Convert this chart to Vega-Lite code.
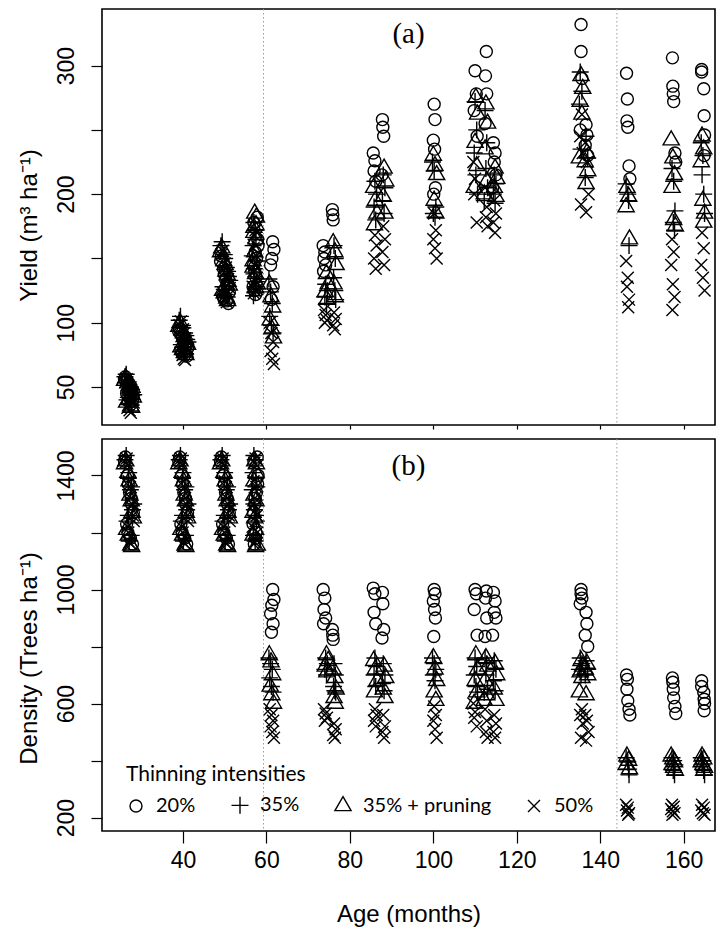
{
"$schema": "https://vega.github.io/schema/vega-lite/v6.json",
"padding": {"left": 16, "top": 7, "right": 2, "bottom": 2},
"background": "white",
"spacing": 6,
"config": {
  "view": {"stroke": "black", "strokeWidth": 1.6},
  "axis": {"domain": false, "grid": false, "tickColor": "black", "tickWidth": 1.2, "labelFont": "Liberation Sans", "titleFont": "Liberation Sans", "labelColor": "black", "titleColor": "black", "labelFontSize": 23, "titleFontSize": 24, "titleFontWeight": "normal", "labelOverlap": false, "labelFlush": false}
},
"resolve": {"scale": {"x": "independent", "y": "independent", "shape": "independent"}, "legend": {"shape": "independent"}},
"datasets": {"obs": [
{"a":26.2,"t":"20%","y":58,"d":1465},{"a":26.7,"t":"20%","y":55,"d":1400},{"a":27.2,"t":"20%","y":52,"d":1340},{"a":27.7,"t":"20%","y":48,"d":1300},{"a":26.5,"t":"20%","y":45,"d":1230},{"a":27.4,"t":"20%","y":42,"d":1180},
{"a":26.4,"t":"35%","y":60,"d":1470},{"a":26.9,"t":"35%","y":54,"d":1390},{"a":27.4,"t":"35%","y":50,"d":1350},{"a":27.9,"t":"35%","y":46,"d":1280},{"a":26.6,"t":"35%","y":40,"d":1240},{"a":27.1,"t":"35%","y":37,"d":1170},
{"a":26.3,"t":"35% + pruning","y":57,"d":1450},{"a":26.8,"t":"35% + pruning","y":53,"d":1410},{"a":27.3,"t":"35% + pruning","y":49,"d":1330},{"a":27.8,"t":"35% + pruning","y":44,"d":1270},{"a":26.5,"t":"35% + pruning","y":38,"d":1210},{"a":27.5,"t":"35% + pruning","y":35,"d":1155},
{"a":26.5,"t":"50%","y":56,"d":1460},{"a":27.0,"t":"50%","y":51,"d":1380},{"a":27.5,"t":"50%","y":45,"d":1320},{"a":28.0,"t":"50%","y":40,"d":1260},{"a":26.7,"t":"50%","y":34,"d":1220},{"a":27.2,"t":"50%","y":32,"d":1165},
{"a":26.0,"t":"20%","y":56,"d":1450},{"a":26.9,"t":"20%","y":53,"d":1370},{"a":27.6,"t":"20%","y":50,"d":1320},{"a":28.1,"t":"20%","y":47,"d":1270},{"a":26.8,"t":"20%","y":43,"d":1200},{"a":27.9,"t":"20%","y":39,"d":1160},
{"a":26.1,"t":"35%","y":58,"d":1455},{"a":27.0,"t":"35%","y":52,"d":1410},{"a":27.7,"t":"35%","y":48,"d":1360},{"a":28.2,"t":"35%","y":44,"d":1300},{"a":26.9,"t":"35%","y":42,"d":1260},{"a":27.6,"t":"35%","y":36,"d":1190},
{"a":26.0,"t":"35% + pruning","y":55,"d":1440},{"a":27.1,"t":"35% + pruning","y":51,"d":1380},{"a":27.6,"t":"35% + pruning","y":47,"d":1310},{"a":28.1,"t":"35% + pruning","y":42,"d":1250},{"a":26.9,"t":"35% + pruning","y":40,"d":1190},{"a":27.7,"t":"35% + pruning","y":34,"d":1150},
{"a":26.2,"t":"50%","y":54,"d":1445},{"a":27.3,"t":"50%","y":49,"d":1360},{"a":27.8,"t":"50%","y":43,"d":1300},{"a":28.2,"t":"50%","y":38,"d":1240},{"a":26.9,"t":"50%","y":36,"d":1200},{"a":27.5,"t":"50%","y":30,"d":1160},
{"a":39.2,"t":"20%","y":95,"d":1465},{"a":39.7,"t":"20%","y":90,"d":1400},{"a":40.2,"t":"20%","y":86,"d":1340},{"a":40.7,"t":"20%","y":82,"d":1300},{"a":39.5,"t":"20%","y":78,"d":1230},{"a":40.4,"t":"20%","y":75,"d":1180},
{"a":39.4,"t":"35%","y":105,"d":1470},{"a":39.9,"t":"35%","y":98,"d":1390},{"a":40.4,"t":"35%","y":92,"d":1350},{"a":40.9,"t":"35%","y":87,"d":1280},{"a":39.6,"t":"35%","y":83,"d":1240},{"a":40.1,"t":"35%","y":78,"d":1170},
{"a":39.3,"t":"35% + pruning","y":100,"d":1450},{"a":39.8,"t":"35% + pruning","y":94,"d":1410},{"a":40.3,"t":"35% + pruning","y":89,"d":1330},{"a":40.8,"t":"35% + pruning","y":85,"d":1270},{"a":39.5,"t":"35% + pruning","y":81,"d":1210},{"a":40.5,"t":"35% + pruning","y":77,"d":1155},
{"a":39.5,"t":"50%","y":101,"d":1460},{"a":40.0,"t":"50%","y":95,"d":1380},{"a":40.5,"t":"50%","y":88,"d":1320},{"a":41.0,"t":"50%","y":83,"d":1260},{"a":39.7,"t":"50%","y":77,"d":1220},{"a":40.2,"t":"50%","y":72,"d":1165},
{"a":39.0,"t":"20%","y":93,"d":1450},{"a":39.9,"t":"20%","y":88,"d":1370},{"a":40.6,"t":"20%","y":84,"d":1320},{"a":41.1,"t":"20%","y":80,"d":1270},{"a":39.8,"t":"20%","y":76,"d":1200},{"a":40.9,"t":"20%","y":74,"d":1160},
{"a":39.1,"t":"35%","y":102,"d":1455},{"a":40.0,"t":"35%","y":96,"d":1410},{"a":40.7,"t":"35%","y":90,"d":1360},{"a":41.2,"t":"35%","y":85,"d":1300},{"a":39.9,"t":"35%","y":81,"d":1260},{"a":40.6,"t":"35%","y":76,"d":1190},
{"a":39.0,"t":"35% + pruning","y":97,"d":1440},{"a":40.1,"t":"35% + pruning","y":92,"d":1380},{"a":40.6,"t":"35% + pruning","y":87,"d":1310},{"a":41.1,"t":"35% + pruning","y":83,"d":1250},{"a":39.9,"t":"35% + pruning","y":79,"d":1190},{"a":40.7,"t":"35% + pruning","y":75,"d":1150},
{"a":39.2,"t":"50%","y":98,"d":1445},{"a":40.3,"t":"50%","y":92,"d":1360},{"a":40.8,"t":"50%","y":86,"d":1300},{"a":41.2,"t":"50%","y":80,"d":1240},{"a":39.9,"t":"50%","y":75,"d":1200},{"a":40.5,"t":"50%","y":71,"d":1160},
{"a":49.2,"t":"20%","y":152,"d":1465},{"a":49.7,"t":"20%","y":142,"d":1400},{"a":50.2,"t":"20%","y":134,"d":1340},{"a":50.7,"t":"20%","y":127,"d":1300},{"a":49.5,"t":"20%","y":121,"d":1230},{"a":50.4,"t":"20%","y":117,"d":1180},
{"a":49.4,"t":"35%","y":163,"d":1470},{"a":49.9,"t":"35%","y":153,"d":1390},{"a":50.4,"t":"35%","y":143,"d":1350},{"a":50.9,"t":"35%","y":136,"d":1280},{"a":49.6,"t":"35%","y":128,"d":1240},{"a":50.1,"t":"35%","y":122,"d":1170},
{"a":49.3,"t":"35% + pruning","y":158,"d":1450},{"a":49.8,"t":"35% + pruning","y":148,"d":1410},{"a":50.3,"t":"35% + pruning","y":140,"d":1330},{"a":50.8,"t":"35% + pruning","y":132,"d":1270},{"a":49.5,"t":"35% + pruning","y":125,"d":1210},{"a":50.5,"t":"35% + pruning","y":119,"d":1155},
{"a":49.5,"t":"50%","y":156,"d":1460},{"a":50.0,"t":"50%","y":146,"d":1380},{"a":50.5,"t":"50%","y":137,"d":1320},{"a":51.0,"t":"50%","y":130,"d":1260},{"a":49.7,"t":"50%","y":123,"d":1220},{"a":50.2,"t":"50%","y":118,"d":1165},
{"a":49.0,"t":"20%","y":148,"d":1450},{"a":49.9,"t":"20%","y":138,"d":1370},{"a":50.6,"t":"20%","y":130,"d":1320},{"a":51.1,"t":"20%","y":124,"d":1270},{"a":49.8,"t":"20%","y":119,"d":1200},{"a":50.9,"t":"20%","y":115,"d":1160},
{"a":49.1,"t":"35%","y":160,"d":1455},{"a":50.0,"t":"35%","y":150,"d":1410},{"a":50.7,"t":"35%","y":140,"d":1360},{"a":51.2,"t":"35%","y":133,"d":1300},{"a":49.9,"t":"35%","y":126,"d":1260},{"a":50.6,"t":"35%","y":120,"d":1190},
{"a":49.0,"t":"35% + pruning","y":155,"d":1440},{"a":50.1,"t":"35% + pruning","y":145,"d":1380},{"a":50.6,"t":"35% + pruning","y":137,"d":1310},{"a":51.1,"t":"35% + pruning","y":129,"d":1250},{"a":49.9,"t":"35% + pruning","y":123,"d":1190},{"a":50.7,"t":"35% + pruning","y":117,"d":1150},
{"a":49.2,"t":"50%","y":153,"d":1445},{"a":50.3,"t":"50%","y":143,"d":1360},{"a":50.8,"t":"50%","y":134,"d":1300},{"a":51.2,"t":"50%","y":127,"d":1240},{"a":49.9,"t":"50%","y":121,"d":1200},{"a":50.5,"t":"50%","y":116,"d":1160},
{"a":57.8,"t":"20%","y":182,"d":1465},{"a":58.0,"t":"20%","y":160,"d":1400},{"a":57.6,"t":"20%","y":150,"d":1340},{"a":57.2,"t":"20%","y":140,"d":1300},{"a":56.8,"t":"20%","y":128,"d":1230},{"a":57.4,"t":"20%","y":122,"d":1180},
{"a":57.0,"t":"35%","y":178,"d":1470},{"a":57.5,"t":"35%","y":165,"d":1390},{"a":56.6,"t":"35%","y":152,"d":1350},{"a":57.1,"t":"35%","y":142,"d":1280},{"a":57.6,"t":"35%","y":132,"d":1240},{"a":57.3,"t":"35%","y":124,"d":1170},
{"a":57.2,"t":"35% + pruning","y":185,"d":1450},{"a":57.5,"t":"35% + pruning","y":176,"d":1410},{"a":57.0,"t":"35% + pruning","y":170,"d":1330},{"a":56.8,"t":"35% + pruning","y":148,"d":1270},{"a":57.4,"t":"35% + pruning","y":138,"d":1210},{"a":57.8,"t":"35% + pruning","y":130,"d":1155},
{"a":57.4,"t":"50%","y":172,"d":1460},{"a":56.9,"t":"50%","y":158,"d":1380},{"a":57.2,"t":"50%","y":145,"d":1320},{"a":57.7,"t":"50%","y":135,"d":1260},{"a":56.7,"t":"50%","y":128,"d":1220},{"a":57.3,"t":"50%","y":125,"d":1165},
{"a":57.0,"t":"20%","y":178,"d":1450},{"a":57.9,"t":"20%","y":165,"d":1370},{"a":57.3,"t":"20%","y":155,"d":1320},{"a":56.9,"t":"20%","y":145,"d":1270},{"a":57.5,"t":"20%","y":135,"d":1200},{"a":57.1,"t":"20%","y":125,"d":1160},
{"a":57.3,"t":"35%","y":172,"d":1455},{"a":56.8,"t":"35%","y":160,"d":1410},{"a":57.7,"t":"35%","y":148,"d":1360},{"a":57.0,"t":"35%","y":138,"d":1300},{"a":57.4,"t":"35%","y":128,"d":1260},{"a":56.9,"t":"35%","y":121,"d":1190},
{"a":57.6,"t":"35% + pruning","y":182,"d":1440},{"a":57.0,"t":"35% + pruning","y":174,"d":1380},{"a":57.5,"t":"35% + pruning","y":165,"d":1310},{"a":57.2,"t":"35% + pruning","y":155,"d":1250},{"a":56.8,"t":"35% + pruning","y":143,"d":1190},{"a":57.4,"t":"35% + pruning","y":127,"d":1150},
{"a":57.1,"t":"50%","y":168,"d":1445},{"a":57.6,"t":"50%","y":152,"d":1360},{"a":56.9,"t":"50%","y":140,"d":1300},{"a":57.4,"t":"50%","y":132,"d":1240},{"a":57.8,"t":"50%","y":126,"d":1200},{"a":57.0,"t":"50%","y":123,"d":1160},
{"a":61.5,"t":"20%","y":163,"d":1000},{"a":61.8,"t":"20%","y":157,"d":965},{"a":61.3,"t":"20%","y":150,"d":945},{"a":61.0,"t":"20%","y":145,"d":915},{"a":61.6,"t":"20%","y":128,"d":880},{"a":61.2,"t":"20%","y":118,"d":850},
{"a":60.6,"t":"35%","y":134,"d":760},{"a":61.0,"t":"35%","y":124,"d":740},{"a":61.4,"t":"35%","y":115,"d":720},{"a":60.8,"t":"35%","y":105,"d":690},{"a":61.2,"t":"35%","y":98,"d":660},{"a":61.6,"t":"35%","y":92,"d":640},
{"a":60.7,"t":"35% + pruning","y":130,"d":770},{"a":61.1,"t":"35% + pruning","y":120,"d":745},{"a":61.5,"t":"35% + pruning","y":112,"d":700},{"a":60.9,"t":"35% + pruning","y":102,"d":660},{"a":61.3,"t":"35% + pruning","y":95,"d":630},{"a":61.7,"t":"35% + pruning","y":88,"d":600},
{"a":60.8,"t":"50%","y":100,"d":580},{"a":61.2,"t":"50%","y":92,"d":560},{"a":61.6,"t":"50%","y":85,"d":540},{"a":61.0,"t":"50%","y":78,"d":520},{"a":61.4,"t":"50%","y":72,"d":500},{"a":61.8,"t":"50%","y":68,"d":480},
{"a":73.6,"t":"20%","y":160,"d":1000},{"a":74.0,"t":"20%","y":155,"d":970},{"a":73.8,"t":"20%","y":150,"d":930},{"a":74.2,"t":"20%","y":145,"d":900},{"a":73.7,"t":"20%","y":140,"d":880},
{"a":74.2,"t":"35%","y":130,"d":760},{"a":74.6,"t":"35%","y":125,"d":740},{"a":74.0,"t":"35%","y":120,"d":720},{"a":74.4,"t":"35%","y":115,"d":700},
{"a":74.4,"t":"35% + pruning","y":138,"d":770},{"a":74.8,"t":"35% + pruning","y":130,"d":750},{"a":74.1,"t":"35% + pruning","y":124,"d":730},{"a":74.5,"t":"35% + pruning","y":118,"d":710},
{"a":73.8,"t":"50%","y":110,"d":580},{"a":74.2,"t":"50%","y":106,"d":565},{"a":74.5,"t":"50%","y":102,"d":550},{"a":74.0,"t":"50%","y":100,"d":540},
{"a":75.8,"t":"20%","y":188,"d":860},{"a":75.9,"t":"20%","y":184,"d":840},{"a":76.0,"t":"20%","y":180,"d":825},
{"a":76.2,"t":"35%","y":160,"d":740},{"a":76.5,"t":"35%","y":150,"d":700},{"a":76.1,"t":"35%","y":135,"d":660},{"a":76.4,"t":"35%","y":125,"d":645},{"a":76.6,"t":"35%","y":118,"d":640},
{"a":76.0,"t":"35% + pruning","y":162,"d":720},{"a":76.4,"t":"35% + pruning","y":155,"d":690},{"a":76.7,"t":"35% + pruning","y":145,"d":650},{"a":76.2,"t":"35% + pruning","y":130,"d":620},{"a":76.5,"t":"35% + pruning","y":120,"d":600},
{"a":76.2,"t":"50%","y":108,"d":530},{"a":76.6,"t":"50%","y":103,"d":510},{"a":76.0,"t":"50%","y":98,"d":490},{"a":76.4,"t":"50%","y":95,"d":480},
{"a":85.6,"t":"20%","y":232,"d":1005},{"a":86.0,"t":"20%","y":226,"d":985},{"a":85.8,"t":"20%","y":218,"d":920},{"a":86.2,"t":"20%","y":210,"d":880},
{"a":86.0,"t":"35%","y":210,"d":760},{"a":86.4,"t":"35%","y":200,"d":730},{"a":85.8,"t":"35%","y":190,"d":700},{"a":86.2,"t":"35%","y":180,"d":660},
{"a":85.7,"t":"35% + pruning","y":205,"d":750},{"a":86.1,"t":"35% + pruning","y":195,"d":720},{"a":86.5,"t":"35% + pruning","y":185,"d":680},{"a":85.9,"t":"35% + pruning","y":176,"d":640},
{"a":86.0,"t":"50%","y":168,"d":580},{"a":86.4,"t":"50%","y":160,"d":560},{"a":85.8,"t":"50%","y":150,"d":540},{"a":86.2,"t":"50%","y":142,"d":520},
{"a":87.8,"t":"20%","y":258,"d":990},{"a":87.9,"t":"20%","y":252,"d":950},{"a":88.1,"t":"20%","y":245,"d":860},{"a":87.7,"t":"20%","y":215,"d":830},
{"a":88.0,"t":"35%","y":215,"d":740},{"a":88.4,"t":"35%","y":205,"d":700},{"a":87.8,"t":"35%","y":195,"d":670},{"a":88.2,"t":"35%","y":185,"d":645},
{"a":88.2,"t":"35% + pruning","y":220,"d":730},{"a":88.6,"t":"35% + pruning","y":210,"d":690},{"a":88.0,"t":"35% + pruning","y":198,"d":650},{"a":88.4,"t":"35% + pruning","y":185,"d":620},
{"a":88.0,"t":"50%","y":175,"d":560},{"a":88.4,"t":"50%","y":165,"d":520},{"a":87.8,"t":"50%","y":155,"d":500},{"a":88.2,"t":"50%","y":145,"d":480},
{"a":100.2,"t":"20%","y":270,"d":1000},{"a":100.4,"t":"20%","y":258,"d":985},{"a":100.0,"t":"20%","y":242,"d":960},{"a":100.3,"t":"20%","y":235,"d":930},{"a":100.5,"t":"20%","y":205,"d":900},{"a":100.1,"t":"20%","y":200,"d":835},
{"a":99.8,"t":"35%","y":225,"d":760},{"a":100.2,"t":"35%","y":218,"d":740},{"a":100.6,"t":"35%","y":190,"d":720},{"a":100.0,"t":"35%","y":185,"d":700},{"a":100.4,"t":"35%","y":182,"d":680},
{"a":100.0,"t":"35% + pruning","y":230,"d":760},{"a":100.4,"t":"35% + pruning","y":222,"d":720},{"a":100.8,"t":"35% + pruning","y":215,"d":680},{"a":100.2,"t":"35% + pruning","y":195,"d":640},{"a":100.6,"t":"35% + pruning","y":185,"d":610},
{"a":100.2,"t":"50%","y":185,"d":590},{"a":100.6,"t":"50%","y":172,"d":560},{"a":100.0,"t":"50%","y":165,"d":540},{"a":100.4,"t":"50%","y":158,"d":510},{"a":100.8,"t":"50%","y":150,"d":480},
{"a":110.0,"t":"20%","y":296,"d":1000},{"a":110.3,"t":"20%","y":278,"d":985},{"a":109.8,"t":"20%","y":265,"d":930},{"a":110.5,"t":"20%","y":245,"d":840},
{"a":110.0,"t":"35%","y":272,"d":760},{"a":110.4,"t":"35%","y":250,"d":730},{"a":109.8,"t":"35%","y":232,"d":700},{"a":110.2,"t":"35%","y":215,"d":660},{"a":110.6,"t":"35%","y":200,"d":640},
{"a":110.2,"t":"35% + pruning","y":275,"d":770},{"a":110.6,"t":"35% + pruning","y":262,"d":720},{"a":110.0,"t":"35% + pruning","y":240,"d":680},{"a":110.4,"t":"35% + pruning","y":222,"d":640},{"a":109.8,"t":"35% + pruning","y":205,"d":600},
{"a":109.6,"t":"50%","y":225,"d":600},{"a":110.0,"t":"50%","y":212,"d":570},{"a":109.8,"t":"50%","y":200,"d":550},{"a":110.4,"t":"50%","y":178,"d":520},
{"a":112.7,"t":"20%","y":311,"d":995},{"a":112.5,"t":"20%","y":292,"d":970},{"a":112.8,"t":"20%","y":278,"d":900},{"a":112.4,"t":"20%","y":255,"d":835},
{"a":112.4,"t":"35%","y":265,"d":760},{"a":112.8,"t":"35%","y":240,"d":740},{"a":112.6,"t":"35%","y":220,"d":700},{"a":113.0,"t":"35%","y":205,"d":650},{"a":112.2,"t":"35%","y":195,"d":640},
{"a":112.6,"t":"35% + pruning","y":270,"d":760},{"a":113.0,"t":"35% + pruning","y":255,"d":730},{"a":112.4,"t":"35% + pruning","y":235,"d":680},{"a":112.8,"t":"35% + pruning","y":210,"d":630},{"a":112.2,"t":"35% + pruning","y":200,"d":610},
{"a":112.4,"t":"50%","y":205,"d":580},{"a":112.8,"t":"50%","y":190,"d":540},{"a":112.6,"t":"50%","y":182,"d":500},{"a":113.0,"t":"50%","y":175,"d":480},
{"a":114.4,"t":"20%","y":240,"d":990},{"a":114.8,"t":"20%","y":232,"d":960},{"a":114.6,"t":"20%","y":225,"d":920},{"a":115.0,"t":"20%","y":215,"d":900},{"a":114.2,"t":"20%","y":205,"d":840},
{"a":114.6,"t":"35%","y":215,"d":750},{"a":115.0,"t":"35%","y":208,"d":720},{"a":114.4,"t":"35%","y":200,"d":680},{"a":114.8,"t":"35%","y":193,"d":645},
{"a":114.8,"t":"35% + pruning","y":220,"d":740},{"a":115.2,"t":"35% + pruning","y":212,"d":700},{"a":114.6,"t":"35% + pruning","y":205,"d":650},{"a":115.0,"t":"35% + pruning","y":198,"d":610},
{"a":114.6,"t":"50%","y":195,"d":560},{"a":115.0,"t":"50%","y":185,"d":530},{"a":114.4,"t":"50%","y":178,"d":500},{"a":114.8,"t":"50%","y":170,"d":480},
{"a":135.4,"t":"20%","y":332,"d":1000},{"a":135.4,"t":"20%","y":311,"d":985},{"a":135.6,"t":"20%","y":290,"d":970},{"a":135.2,"t":"20%","y":250,"d":950},
{"a":135.2,"t":"35%","y":295,"d":760},{"a":135.6,"t":"35%","y":280,"d":740},{"a":135.0,"t":"35%","y":270,"d":720},{"a":135.4,"t":"35%","y":235,"d":700},
{"a":135.4,"t":"35% + pruning","y":292,"d":750},{"a":135.8,"t":"35% + pruning","y":282,"d":730},{"a":135.2,"t":"35% + pruning","y":272,"d":710},{"a":135.6,"t":"35% + pruning","y":262,"d":690},{"a":135.0,"t":"35% + pruning","y":228,"d":640},
{"a":135.6,"t":"50%","y":262,"d":580},{"a":135.2,"t":"50%","y":245,"d":560},{"a":135.8,"t":"50%","y":232,"d":530},{"a":135.4,"t":"50%","y":192,"d":480},
{"a":136.6,"t":"20%","y":254,"d":920},{"a":136.8,"t":"20%","y":246,"d":880},{"a":136.4,"t":"20%","y":238,"d":840},{"a":137.0,"t":"20%","y":230,"d":800},
{"a":136.6,"t":"35%","y":245,"d":750},{"a":137.0,"t":"35%","y":228,"d":720},{"a":136.4,"t":"35%","y":213,"d":700},
{"a":136.8,"t":"35% + pruning","y":232,"d":740},{"a":136.4,"t":"35% + pruning","y":225,"d":720},{"a":137.0,"t":"35% + pruning","y":218,"d":700},{"a":136.6,"t":"35% + pruning","y":208,"d":630},
{"a":136.4,"t":"50%","y":240,"d":560},{"a":136.8,"t":"50%","y":225,"d":540},{"a":137.2,"t":"50%","y":200,"d":500},{"a":136.6,"t":"50%","y":186,"d":470},
{"a":146.3,"t":"20%","y":294,"d":700},{"a":146.5,"t":"20%","y":274,"d":685},{"a":146.4,"t":"20%","y":257,"d":650},{"a":146.6,"t":"20%","y":252,"d":610},{"a":146.9,"t":"20%","y":222,"d":580},{"a":147.1,"t":"20%","y":212,"d":560},
{"a":146.2,"t":"35%","y":208,"d":410},{"a":146.6,"t":"35%","y":200,"d":395},{"a":146.8,"t":"35%","y":195,"d":370},{"a":146.9,"t":"35%","y":160,"d":350},
{"a":146.4,"t":"35% + pruning","y":205,"d":415},{"a":146.8,"t":"35% + pruning","y":198,"d":400},{"a":146.2,"t":"35% + pruning","y":190,"d":385},{"a":147.0,"t":"35% + pruning","y":165,"d":370},
{"a":146.2,"t":"50%","y":148,"d":245},{"a":146.6,"t":"50%","y":135,"d":235},{"a":146.4,"t":"50%","y":128,"d":225},{"a":146.9,"t":"50%","y":118,"d":215},{"a":146.7,"t":"50%","y":112,"d":210},
{"a":157.3,"t":"20%","y":306,"d":690},{"a":157.4,"t":"20%","y":284,"d":675},{"a":157.5,"t":"20%","y":278,"d":650},{"a":157.6,"t":"20%","y":272,"d":620},{"a":157.9,"t":"20%","y":232,"d":590},{"a":158.1,"t":"20%","y":225,"d":565},
{"a":157.2,"t":"35%","y":220,"d":410},{"a":157.6,"t":"35%","y":210,"d":400},{"a":157.9,"t":"35%","y":187,"d":385},{"a":157.5,"t":"35%","y":178,"d":365},{"a":157.8,"t":"35%","y":172,"d":350},
{"a":157.0,"t":"35% + pruning","y":242,"d":415},{"a":157.4,"t":"35% + pruning","y":228,"d":405},{"a":157.8,"t":"35% + pruning","y":215,"d":395},{"a":157.2,"t":"35% + pruning","y":205,"d":385},{"a":157.6,"t":"35% + pruning","y":180,"d":375},{"a":158.0,"t":"35% + pruning","y":175,"d":365},
{"a":157.2,"t":"50%","y":165,"d":245},{"a":157.6,"t":"50%","y":155,"d":238},{"a":157.0,"t":"50%","y":145,"d":230},{"a":157.4,"t":"50%","y":130,"d":222},{"a":157.8,"t":"50%","y":120,"d":215},{"a":157.3,"t":"50%","y":110,"d":210},
{"a":164.3,"t":"20%","y":297,"d":680},{"a":164.3,"t":"20%","y":295,"d":660},{"a":164.8,"t":"20%","y":282,"d":640},{"a":164.9,"t":"20%","y":261,"d":615},{"a":165.0,"t":"20%","y":246,"d":600},{"a":164.9,"t":"20%","y":230,"d":575},
{"a":164.2,"t":"35%","y":240,"d":410},{"a":164.6,"t":"35%","y":230,"d":400},{"a":164.4,"t":"35%","y":215,"d":385},{"a":164.8,"t":"35%","y":200,"d":365},{"a":165.0,"t":"35%","y":185,"d":350},
{"a":164.4,"t":"35% + pruning","y":245,"d":415},{"a":164.8,"t":"35% + pruning","y":235,"d":405},{"a":164.2,"t":"35% + pruning","y":225,"d":395},{"a":164.6,"t":"35% + pruning","y":195,"d":385},{"a":165.0,"t":"35% + pruning","y":185,"d":375},{"a":164.8,"t":"35% + pruning","y":178,"d":365},
{"a":164.4,"t":"50%","y":170,"d":245},{"a":164.8,"t":"50%","y":158,"d":235},{"a":164.2,"t":"50%","y":145,"d":225},{"a":164.6,"t":"50%","y":135,"d":215},{"a":165.0,"t":"50%","y":125,"d":210}
]},
"vconcat": [
{
  "width": 613, "height": 416,
  "title": {"text": "(a)", "font": "Liberation Serif", "fontSize": 29, "fontWeight": "normal", "color": "black", "anchor": "middle", "orient": "top", "frame": "group", "offset": -40},
  "layer": [
    {"data": {"values": [{"a": 59.3}, {"a": 144}]},
     "mark": {"type": "rule", "color": "#9a9a9a", "strokeDash": [1.5, 2.5], "strokeWidth": 1},
     "encoding": {"x": {"field": "a", "type": "quantitative", "scale": {"domain": [20.6, 167.5], "nice": false, "zero": false}, "axis": {"values": [40, 60, 80, 100, 120, 140, 160], "labels": false, "tickSize": 4, "title": null}}}},
    {"data": {"name": "obs"},
     "mark": {"type": "point", "filled": false, "stroke": "black", "strokeWidth": 1.4, "opacity": 1, "size": 144},
     "encoding": {
       "x": {"field": "a", "type": "quantitative", "scale": {"domain": [20.6, 167.5], "nice": false, "zero": false}, "axis": {"values": [40, 60, 80, 100, 120, 140, 160], "labels": false, "tickSize": 4, "title": null}},
       "y": {"field": "y", "type": "quantitative", "title": "Yield (m³ ha⁻¹)", "scale": {"domain": [20.5, 344], "nice": false, "zero": false},
             "axis": {"values": [50, 100, 150, 200, 250, 300], "format": "d", "labelExpr": "datum.value == 150 || datum.value == 250 ? '' : datum.label", "labelAngle": 270, "labelAlign": "center", "labelBaseline": "alphabetic", "tickSize": 11, "labelPadding": 18, "titlePadding": 14, "titleY": 216}},
       "shape": {"field": "t", "type": "nominal", "scale": {"domain": ["20%", "35%", "35% + pruning", "50%"], "range": ["circle", "M-1.414,0L1.414,0M0,-1.414L0,1.414", "M0,-1.555L1.347,0.778L-1.347,0.778Z", "M-1,-1L1,1M-1,1L1,-1"]}, "legend": null}
     }}
  ]
},
{
  "width": 613, "height": 392,
  "title": {"text": "(b)", "font": "Liberation Serif", "fontSize": 29, "fontWeight": "normal", "color": "black", "anchor": "middle", "orient": "top", "frame": "group", "offset": -42},
  "layer": [
    {"data": {"values": [{"a": 59.3}, {"a": 144}]},
     "mark": {"type": "rule", "color": "#9a9a9a", "strokeDash": [1.5, 2.5], "strokeWidth": 1},
     "encoding": {"x": {"field": "a", "type": "quantitative", "scale": {"domain": [20.6, 167.5], "nice": false, "zero": false}, "axis": {"values": [40, 60, 80, 100, 120, 140, 160], "tickSize": 12, "labelPadding": 6, "title": "Age (months)", "titlePadding": 30}}}},
    {"data": {"name": "obs"},
     "mark": {"type": "point", "filled": false, "stroke": "black", "strokeWidth": 1.4, "opacity": 1, "size": 144},
     "encoding": {
       "x": {"field": "a", "type": "quantitative", "scale": {"domain": [20.6, 167.5], "nice": false, "zero": false}, "axis": {"values": [40, 60, 80, 100, 120, 140, 160], "tickSize": 12, "labelPadding": 6, "title": "Age (months)", "titlePadding": 30}},
       "y": {"field": "d", "type": "quantitative", "title": "Density (Trees ha⁻¹)", "scale": {"domain": [153, 1528], "nice": false, "zero": false},
             "axis": {"values": [200, 400, 600, 800, 1000, 1200, 1400], "format": "d", "labelExpr": "datum.value % 400 == 200 ? datum.label : ''", "labelAngle": 270, "labelAlign": "center", "labelBaseline": "alphabetic", "tickSize": 11, "labelPadding": 18, "titlePadding": 14, "titleY": 219}},
       "shape": {"field": "t", "type": "nominal", "scale": {"domain": ["20%", "35%", "35% + pruning", "50%"], "range": ["circle", "M-1.414,0L1.414,0M0,-1.414L0,1.414", "M0,-1.555L1.347,0.778L-1.347,0.778Z", "M-1,-1L1,1M-1,1L1,-1"]},
                 "legend": {"title": "Thinning intensities", "orient": "none", "legendX": 24, "legendY": 325, "direction": "horizontal", "columns": 4, "titleFont": "Lato", "titleFontSize": 21, "titleFontWeight": "normal", "titleColor": "black", "labelFont": "Lato", "labelFontSize": 20, "labelColor": "black", "labelOffset": 10, "columnPadding": 32, "symbolSize": 144, "symbolStrokeWidth": 1.4, "symbolStrokeColor": "black", "symbolFillColor": "transparent", "titlePadding": 10, "padding": 0}}
     }}
  ]
}
]
}
